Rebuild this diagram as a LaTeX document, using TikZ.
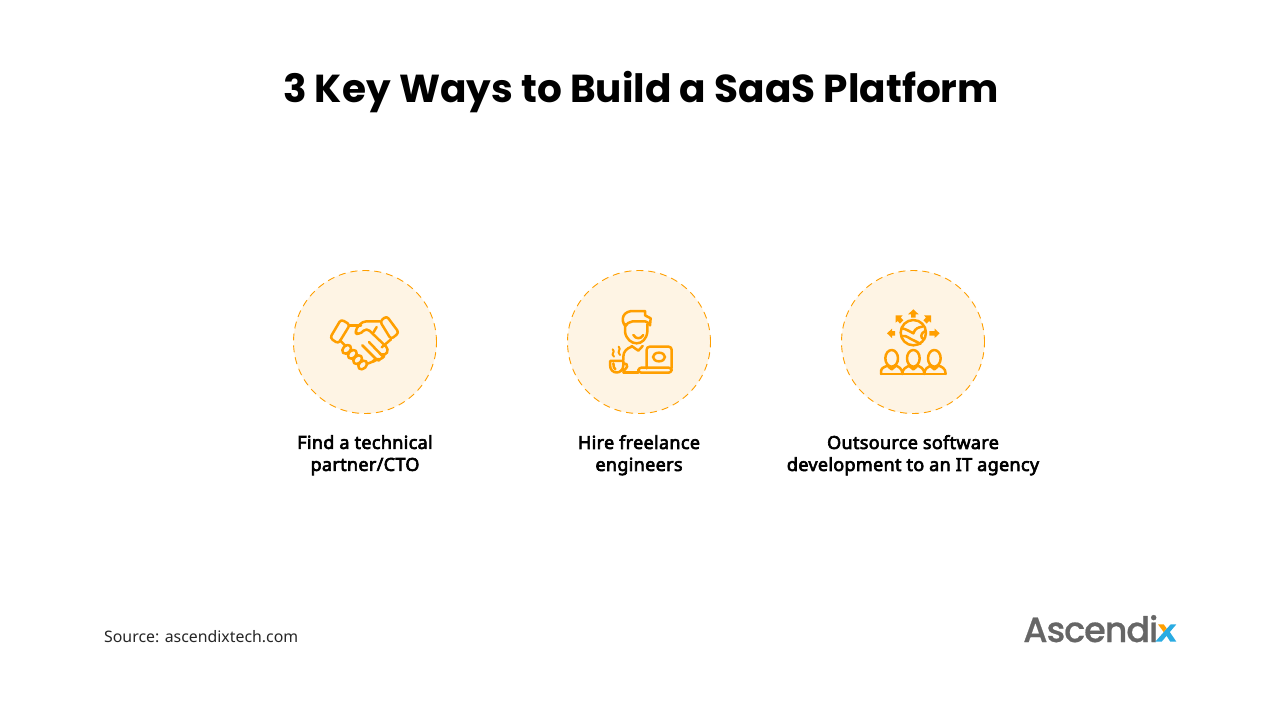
\documentclass[tikz,border=0pt]{standalone}
\usepackage{fontspec}
\setmainfont{Noto Sans}
\newfontfamily\capfont{Noto Sans}[FakeBold=3.5,LetterSpace=1.8]
\newfontfamily\titlefont{Poppins}[UprightFont=* Bold,BoldFont=* Bold]
\newfontfamily\logofont{Poppins}[UprightFont=* Medium,LetterSpace=-3,FakeBold=0.6]
\definecolor{ico}{HTML}{FF9F00}
\definecolor{disc}{HTML}{FEF4E4}
\definecolor{logogray}{HTML}{666666}
\definecolor{logoblue}{HTML}{29ABE2}
\tikzset{
  disccircle/.style={circle,draw=ico,fill=disc,line width=.9pt,dash pattern=on 7pt off 5pt,minimum size=143pt,inner sep=0pt},
  caption/.style={font=\capfont\fontsize{18}{22}\selectfont,align=center,text=black,inner sep=0pt},
  iconline/.style={draw=ico,line width=2.5pt,line cap=round,line join=round},
  iconthin/.style={draw=ico,line width=2pt,line cap=round,line join=round},
  iconzoom/.style={x=.3333pt,y=-.3333pt}
}
\begin{document}
\begin{tikzpicture}[x=1pt,y=-1pt]
\useasboundingbox (0,0) rectangle (1281,701);
\fill[white] (0,0) rectangle (1281,701);
\node[font=\titlefont\fontsize{39}{44}\selectfont,inner sep=0pt] (title) at (641,92) {3 Key Ways to Build a SaaS Platform};

\node[disccircle] (c1) at (365,342) {};
\node[disccircle] (c2) at (639,342) {};
\node[disccircle] (c3) at (913,342) {};

\node[caption,anchor=north] (t1) at (365,435) {Find a technical\\partner/CTO};
\node[caption,anchor=north] (t2) at (639,435) {Hire freelance\\engineers};
\node[caption,anchor=north] (t3) at (913,435) {Outsource software\\development to an IT agency};

\node[anchor=west,font=\fontsize{15.85}{20}\selectfont,text=black!85,inner sep=0pt] (src) at (104,637) {Source: ascendixtech.com};

% handshake
\begin{scope}[shift={(285,262)},iconzoom]
 \draw[iconline,rounded corners=3pt] (168,172)--(195,188)--(160,245)--(135,228)--cycle;
 \draw[iconline,rounded corners=3pt] (305,162)--(342,212)--(318,232)--(285,178)--cycle;
 \draw[iconline] (195,190)--(228,190);
 \draw[iconline,rounded corners=4pt] (285,178)--(232,178)--(208,208)--(220,220)--(245,198)--(312,262)--(300,282)--(285,275);
 \draw[iconline] (265,212)--(275,195);
 \draw[iconline] (318,232)--(290,256);
 \draw[iconline] (165,235)--(182,252);
 \draw[iconline] (232,250)--(272,290);
 \draw[iconline] (252,240)--(295,285);
 \draw[iconline,rounded corners=4pt] (245,305)--(262,302)--(272,290)--(285,296)--(298,282);
 \draw[iconline,rotate around={45:(185,262)}] (185,262) ellipse (15 and 11);
 \draw[iconline,rotate around={45:(202,277)}] (202,277) ellipse (15 and 11);
 \draw[iconline,rotate around={45:(218,293)}] (218,293) ellipse (15 and 11);
 \draw[iconline,rotate around={45:(233,309)}] (233,309) ellipse (15 and 11);
 \fill[ico] (325,190) circle (4);
\end{scope}

% freelancer
\begin{scope}[shift={(590,300)},iconzoom]
 \draw[iconline] (105,72)--(105,95) .. controls (108,118) and (125,130) .. (140,130) .. controls (155,130) and (170,118) .. (172,95)--(172,72);
 \draw[iconline] (106,78) .. controls (90,60) and (98,30) .. (135,33)--(165,33)--(165,46)--(182,55)--(180,76) .. controls (175,68) and (170,64) .. (165,64)--(128,64) .. controls (118,64) and (110,72) .. (106,78);
 \draw[iconline] (130,105) .. controls (138,118) and (152,118) .. (160,105);
 \draw[iconline] (125,138)--(145,152)--(158,138);
 \draw[iconline] (125,140) .. controls (110,145) and (100,155) .. (100,170)--(100,180);
 \draw[iconline] (100,218)--(145,218);
 \draw[iconline,rounded corners=3pt] (170,205)--(170,140)--(245,140)--(245,205);
 \draw[iconline,rounded corners=3pt] (145,218)--(145,203)--(245,203)--(245,218)--cycle;
 \draw[iconline] (207,171) ellipse (18 and 13);
 \draw[iconline] (60,183)--(100,183)--(100,195) .. controls (100,225) and (60,225) .. (60,195)--cycle;
 \draw[iconline] (100,190) .. controls (118,188) and (115,212) .. (92,212);
 \draw[iconline] (70,190) .. controls (70,200) and (72,205) .. (76,208);
 \draw[iconthin] (72,170) .. controls (60,160) and (78,158) .. (68,148);
 \draw[iconthin] (90,165) .. controls (78,152) and (96,150) .. (86,140);
\end{scope}

% team and globe
\begin{scope}[shift={(865,300)},iconzoom]
 \draw[iconline] (145,98) circle (38);
 \draw[iconline] (112,85) .. controls (125,88) and (135,95) .. (145,100) .. controls (150,85) and (160,82) .. (172,80);
 \draw[iconline] (112,108) .. controls (125,105) and (135,118) .. (148,122) .. controls (155,127) and (162,127) .. (166,132);
 \draw[iconline] (182,92) .. controls (165,100) and (165,115) .. (178,118);
 \fill[ico] (145,28)--(161,43)--(152,43)--(152,53)--(138,53)--(138,43)--(129,43)--cycle;
 \fill[ico] (66,100)--(81,86)--(81,93)--(90,93)--(90,107)--(81,107)--(81,114)--cycle;
 \fill[ico] (224,100)--(209,86)--(209,93)--(193,93)--(193,107)--(209,107)--(209,114)--cycle;
 \fill[ico] (92,46)--(113,46)--(107,53)--(115,61)--(105,71)--(98,63)--(92,68)--cycle;
 \fill[ico] (198,46)--(177,46)--(183,53)--(175,61)--(185,71)--(192,63)--(198,68)--cycle;
 \foreach \hx in {80,145,208}{
  \draw[iconline] (\hx,175) ellipse (19 and 25);
 }
 \draw[iconline] (48,222)--(242,222);
 \draw[iconline] (48,222)--(48,212) .. controls (50,202) and (62,200) .. (70,196);
 \draw[iconline] (112,222) .. controls (112,204) and (125,202) .. (135,196);
 \draw[iconline] (90,196) .. controls (100,200) and (112,204) .. (112,222);
 \draw[iconline] (178,222) .. controls (178,204) and (190,202) .. (198,196);
 \draw[iconline] (155,196) .. controls (165,200) and (178,204) .. (178,222);
 \draw[iconline] (218,196) .. controls (230,200) and (242,204) .. (242,222);
 \draw[iconline] (70,200)--(80,208)--(90,200);
 \draw[iconline] (135,200)--(145,208)--(155,200);
 \draw[iconline] (198,200)--(208,208)--(218,200);
\end{scope}

% logo
\node[anchor=base west,font=\logofont\fontsize{35}{40}\selectfont,text=logogray,inner sep=0pt] (logo) at (1023,642) {Ascendi};
\begin{scope}[shift={(1010,605)},iconzoom]
 \fill[logoblue] (482,58)--(499,58)--(455,110)--(436,110)--cycle;
 \fill[logoblue] (462,81)--(472,70)--(499,110)--(481,110)--cycle;
 \fill[ico] (444,58)--(461,58)--(470,70)--(461,81)--cycle;
\end{scope}
\end{tikzpicture}
\end{document}
